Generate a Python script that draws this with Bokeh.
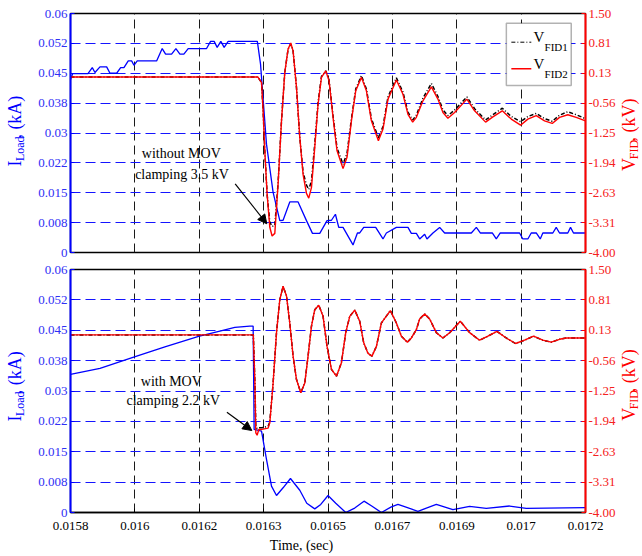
import math
from bokeh.plotting import figure
from bokeh.models import (Range1d, LinearAxis, FixedTicker, Grid, Label, Arrow,
                          NormalHead, BoxAnnotation)
from bokeh.layouts import column, row
from bokeh.embed import file_html
from bokeh.resources import INLINE

# ---------------- data ----------------
x_ticks = [0.0158, 0.015975, 0.01615, 0.016325, 0.0165, 0.016675, 0.01685, 0.017025, 0.0172]
x_labels = ["0.0158", "0.016", "0.0162", "0.0163", "0.0165", "0.0167", "0.0169", "0.017", "0.0172"]
i_ticks = [0, 0.0075, 0.015, 0.0225, 0.03, 0.0375, 0.045, 0.0525, 0.06]
i_labels = ["0", "0.008", "0.015", "0.022", "0.03", "0.038", "0.045", "0.052", "0.06"]
v_ticks = [-4.0, -3.3125, -2.625, -1.9375, -1.25, -0.5625, 0.125, 0.8125, 1.5]
v_labels = ["-4.00", "-3.31", "-2.63", "-1.94", "-1.25", "-0.56", "0.13", "0.81", "1.50"]

# top panel: load current (kA), without MOV
t_top_i = [0.0158, 0.015806, 0.0158475, 0.0158592, 0.0158665, 0.0158801, 0.0158983, 0.0159073, 0.0159255, 0.0159363,
           0.0159453, 0.015957, 0.0159662, 0.0159725, 0.0159814, 0.0160341, 0.0160493, 0.0160585, 0.0160748, 0.0160865,
           0.0160974, 0.0161082, 0.0161199, 0.0161699, 0.0161808, 0.0161905, 0.0161987, 0.0162087, 0.0162177, 0.0162286,
           0.0163079, 0.0163166, 0.0163328, 0.0163508, 0.016369, 0.0163779, 0.0163961, 0.0164187, 0.0164415, 0.0164578,
           0.0164776, 0.0164974, 0.0165094, 0.0165202, 0.0165292, 0.0165409, 0.016568, 0.01658, 0.0165862, 0.0165971,
           0.0166297, 0.0166495, 0.0166587, 0.0166859, 0.0167174, 0.0167266, 0.0167402, 0.0167492, 0.0167628, 0.016769,
           0.0167853, 0.0168035, 0.0168171, 0.0168896, 0.0169032, 0.016914, 0.0169466, 0.0169575, 0.0169683, 0.0170208,
           0.0170297, 0.0170433, 0.0170525, 0.0170661, 0.017077, 0.017084, 0.0171112, 0.0171204, 0.0171294, 0.0171519,
           0.0171593, 0.0171674, 0.0172]
i_top = [0.0434, 0.0449, 0.0449, 0.0464, 0.0452, 0.0466, 0.0466, 0.0450, 0.0450, 0.0464,
         0.0464, 0.0481, 0.0481, 0.0470, 0.0481, 0.0481, 0.0512, 0.0498, 0.0498, 0.0512,
         0.0498, 0.0498, 0.0512, 0.0512, 0.0530, 0.0530, 0.0515, 0.0530, 0.0515, 0.0530,
         0.0530, 0.0473, 0.0272, 0.0151, 0.0080, 0.0081, 0.0127, 0.0127, 0.0080, 0.0048,
         0.0048, 0.0080, 0.0081, 0.0096, 0.0063, 0.0063, 0.0019, 0.0049, 0.0049, 0.0063,
         0.0063, 0.0034, 0.0049, 0.0063, 0.0063, 0.0048, 0.0048, 0.0034, 0.0046, 0.0034,
         0.0049, 0.0063, 0.0049, 0.0049, 0.0063, 0.0049, 0.0049, 0.0034, 0.0049, 0.0049,
         0.0034, 0.0034, 0.0049, 0.0049, 0.0034, 0.0049, 0.0049, 0.0063, 0.0049, 0.0049,
         0.0063, 0.0049, 0.0049]

# top panel: fault-interrupting-device voltages (kV)
t_top_v = [0.0158, 0.0163092, 0.0163193, 0.0163236, 0.0163282, 0.0163345, 0.0163418, 0.016348, 0.0163554, 0.0163643,
           0.0163736, 0.0163825, 0.0163915, 0.0163988, 0.0164051, 0.0164143, 0.0164233, 0.0164322, 0.0164415, 0.0164477,
           0.0164551, 0.016464, 0.016473, 0.0164822, 0.0164939, 0.0165029, 0.0165137, 0.0165246, 0.0165409, 0.0165517,
           0.0165637, 0.0165754, 0.0165908, 0.0166044, 0.016618, 0.016637, 0.0166495, 0.0166631, 0.0166859, 0.0167038,
           0.0167174, 0.0167302, 0.0167402, 0.0167581, 0.016781, 0.0167989, 0.0168125, 0.016826, 0.0168442, 0.0168776,
           0.0168985, 0.0169284, 0.0169482, 0.0169738, 0.0169982, 0.0170235, 0.0170433, 0.0170661, 0.0170887, 0.0171096,
           0.0171294, 0.0171519, 0.0171747, 0.0172]
v_fid2_top = [0.04, 0.04, -0.09, -0.74, -1.66, -2.66, -3.42, -3.62, -3.56, -2.43,
              -0.97, 0.14, 0.68, 0.82, 0.64, -0.20, -1.35, -2.20, -2.64, -2.75,
              -2.50, -1.58, -0.59, 0.03, 0.18, -0.05, -0.89, -1.66, -2.07, -1.81,
              -0.97, -0.28, 0.03, -0.28, -0.97, -1.43, -1.16, -0.47, -0.03, -0.36,
              -0.82, -1.00, -0.89, -0.51, -0.19, -0.47, -0.78, -0.91, -0.78, -0.47,
              -0.74, -1.00, -0.88, -0.74, -0.93, -1.07, -0.93, -0.85, -0.97, -1.03,
              -0.89, -0.83, -0.89, -0.97]
v_fid1_top = [0.04, 0.04, -0.09, -0.74, -1.66, -2.66, -3.30, -3.40, -3.38, -2.40,
              -0.97, 0.14, 0.68, 0.80, 0.64, -0.20, -1.35, -2.15, -2.45, -2.55,
              -2.35, -1.50, -0.55, 0.05, 0.18, -0.03, -0.85, -1.60, -1.97, -1.72,
              -0.92, -0.24, 0.07, -0.24, -0.92, -1.36, -1.10, -0.42, 0.02, -0.31,
              -0.77, -0.95, -0.84, -0.45, -0.11, -0.41, -0.72, -0.85, -0.72, -0.42,
              -0.69, -0.95, -0.83, -0.68, -0.87, -0.99, -0.87, -0.80, -0.92, -0.98,
              -0.84, -0.76, -0.83, -0.92]

# bottom panel: load current (kA), with MOV
t_bot_i = [0.0158, 0.0158801, 0.0159738, 0.0160566, 0.0161482, 0.016206, 0.0162467, 0.0162875, 0.0162965, 0.0162992,
           0.0163193, 0.0163328, 0.0163464, 0.01636, 0.0163779, 0.016398, 0.0164233, 0.0164423, 0.016464, 0.0164803,
           0.0165001, 0.0165211, 0.0165482, 0.0165727, 0.0165979, 0.0166188, 0.0166452, 0.0166723, 0.0166902, 0.016722,
           0.0167445, 0.0167945, 0.0168396, 0.016885, 0.0169303, 0.0169936, 0.017039, 0.0172]
i_bot = [0.0341, 0.0356, 0.0384, 0.0409, 0.0435, 0.0448, 0.0457, 0.0460, 0.0460, 0.0205,
         0.0201, 0.0131, 0.0065, 0.0042, 0.0061, 0.0084, 0.0055, 0.0023, 0.0009, 0.0020,
         0.0042, 0.0023, 0.0000, 0.0011, 0.0028, 0.0016, 0.0000, 0.0014, 0.0020, 0.0010,
         0.0003, 0.0020, 0.0007, 0.0015, 0.0010, 0.0016, 0.0010, 0.0012]

# bottom panel: voltages (kV)
t_bot_v = [0.0158, 0.016297, 0.0163011, 0.0163038, 0.0163073, 0.0163119, 0.0163201, 0.0163372, 0.0163418, 0.0163508,
           0.01636, 0.016369, 0.0163779, 0.0163872, 0.0163961, 0.0164051, 0.0164143, 0.016426, 0.0164369, 0.0164458,
           0.0164551, 0.016464, 0.0164749, 0.0164866, 0.0164974, 0.0165094, 0.016523, 0.0165365, 0.0165482, 0.0165591,
           0.0165727, 0.0165862, 0.0165971, 0.0166088, 0.0166196, 0.0166316, 0.0166452, 0.0166696, 0.0166859, 0.0166995,
           0.0167158, 0.0167266, 0.0167402, 0.0167492, 0.0167628, 0.0167763, 0.0167945, 0.0168125, 0.0168307, 0.0168597,
           0.016885, 0.0169121, 0.0169347, 0.0169591, 0.0169846, 0.0170099, 0.0170343, 0.0170588, 0.017084, 0.0171069,
           0.0171294, 0.0171476, 0.0172]
v_fid2_bot = [0.02, 0.02, -1.0, -2.2, -2.25, -2.12, -2.12, -2.09, -1.97, -1.07,
              0.07, 0.82, 1.12, 0.90, 0.29, -0.46, -0.99, -1.29, -1.07, -0.46,
              0.22, 0.59, 0.69, 0.44, -0.24, -0.76, -0.915, -0.61, 0.07, 0.44,
              0.58, 0.33, -0.16, -0.40, -0.46, -0.24, 0.29, 0.57, 0.29, -0.01,
              -0.145, -0.05, 0.14, 0.38, 0.495, 0.38, 0.07, -0.05, 0.07, 0.33,
              0.07, -0.10, -0.01, 0.10, -0.05, -0.175, -0.10, -0.01, -0.10, -0.145,
              -0.08, -0.05, -0.05]
v_fid1_bot = [0.02, 0.02, -1.0, -2.05, -2.10, -2.08, -2.08, -2.05, -1.95, -1.07,
              0.07, 0.82, 1.12, 0.90, 0.29, -0.46, -0.99, -1.29, -1.07, -0.46,
              0.22, 0.59, 0.69, 0.44, -0.24, -0.76, -0.915, -0.61, 0.07, 0.44,
              0.58, 0.33, -0.16, -0.40, -0.46, -0.24, 0.29, 0.57, 0.29, -0.01,
              -0.145, -0.05, 0.14, 0.38, 0.495, 0.38, 0.07, -0.05, 0.07, 0.33,
              0.07, -0.10, -0.01, 0.10, -0.05, -0.175, -0.10, -0.01, -0.10, -0.145,
              -0.08, -0.05, -0.05]

# ---------------- layout / style ----------------
FONT = "Liberation Serif"
BLUE = "#0000ff"
TICK_BLUE = "#2f2ff5"
RED = "#ff0000"
TICK_RED = "#f52020"
W = 642
LW, RW = 28, 24            # side label strips
LEFT, RIGHT = 42, 32       # borders inside main figures
MW = W - LW - RW           # 590
FW = MW - LEFT - RIGHT     # 516
FRAME_X0 = LW + LEFT       # 70 (page px)
TOP_H, TOP_T, TOP_B = 262, 13, 10
BOT_H, BOT_T, BOT_B = 274, 7, 24
XL_H = 556 - TOP_H - BOT_H  # 20
TOP_FH = TOP_H - TOP_T - TOP_B
BOT_FH = BOT_H - BOT_T - BOT_B
X0, X1 = 0.0158, 0.0172
I0, I1 = 0.0, 0.06
V0, V1 = -4.0, 1.5

WID = {"I": .333, "L": .611, "o": .5, "a": .444, "d": .5, ",": .25, " ": .25, "(": .333,
       ")": .333, "k": .5, "A": .722, "V": .722, "F": .556, "D": .722}


def tw(s, size):
    return sum(WID.get(c, .5) for c in s) * size


def px_x(px):
    return X0 + (px - FRAME_X0) / FW * (X1 - X0)


def py_top(py):
    return I0 + (TOP_T + TOP_FH - py) / TOP_FH * (I1 - I0)


def py_bot(py):
    return I0 + (TOP_H + BOT_T + BOT_FH - py) / BOT_FH * (I1 - I0)


def make_panel(height, top, bottom, show_x):
    p = figure(width=MW, height=height, x_range=Range1d(X0, X1), y_range=Range1d(I0, I1),
               x_axis_location=None, y_axis_location=None, output_backend="svg",
               toolbar_location=None, min_border_left=LEFT, min_border_right=RIGHT,
               min_border_top=top, min_border_bottom=bottom,
               outline_line_color="black", outline_line_width=1.3,
               background_fill_color="white", border_fill_color="white")
    p.grid.visible = False
    p.extra_y_ranges = {"v": Range1d(V0, V1)}
    p.add_layout(Grid(dimension=0, ticker=FixedTicker(ticks=x_ticks), grid_line_color="#1a1a1a",
                      grid_line_dash="9 5", grid_line_width=1))
    p.add_layout(Grid(dimension=1, ticker=FixedTicker(ticks=i_ticks), grid_line_color="#1515ff",
                      grid_line_dash="10 5", grid_line_width=1.2))
    left = LinearAxis(ticker=FixedTicker(ticks=i_ticks), major_label_overrides=dict(zip(i_ticks, i_labels)),
                      axis_line_color=BLUE, axis_line_width=2, major_tick_line_color=BLUE,
                      major_tick_in=4, major_tick_out=0, minor_tick_line_color=None,
                      major_label_text_color=TICK_BLUE, major_label_text_font=FONT,
                      major_label_text_font_size="13px", major_label_standoff=3)
    p.add_layout(left, "left")
    right = LinearAxis(y_range_name="v", ticker=FixedTicker(ticks=v_ticks),
                       major_label_overrides=dict(zip(v_ticks, v_labels)),
                       axis_line_color=RED, axis_line_width=2, major_tick_line_color=RED,
                       major_tick_in=4, major_tick_out=0, minor_tick_line_color=None,
                       major_label_text_color=TICK_RED, major_label_text_font=FONT,
                       major_label_text_font_size="13px", major_label_standoff=3)
    p.add_layout(right, "right")
    if show_x:
        bx = LinearAxis(ticker=FixedTicker(ticks=x_ticks), major_label_overrides=dict(zip(x_ticks, x_labels)),
                        axis_line_color="black", axis_line_width=1.3, major_tick_line_color="black",
                        major_tick_in=4, major_tick_out=0, minor_tick_line_color=None,
                        major_label_text_color="black", major_label_text_font=FONT,
                        major_label_text_font_size="13px", major_label_standoff=9)
        p.add_layout(bx, "below")
    return p


def text_fig(width, height):
    f = figure(width=width, height=height, x_range=Range1d(0, width), y_range=Range1d(height, 0),
               x_axis_location=None, y_axis_location=None, output_backend="svg",
               toolbar_location=None, min_border=0, outline_line_color=None,
               background_fill_color="white", border_fill_color="white")
    f.grid.visible = False
    return f


def vlabel(f, x_px, cy_px, parts, color):
    """Rotated (reading upward) label built of segments, in local pixel coords."""
    total = sum(tw(s, sz) for s, sz, dx in parts)
    y = cy_px + total / 2
    for s, sz, dx in parts:
        f.add_layout(Label(x=x_px + dx, y=y, text=s, angle=math.pi / 2,
                           text_align="left", text_baseline="middle", text_font=FONT,
                           text_font_size=f"{sz}px", text_color=color))
        y -= tw(s, sz)


def tlabel(p, x, y, text, size, align="center", color="black"):
    p.add_layout(Label(x=x, y=y, text=text, text_align=align, text_baseline="middle",
                       text_font=FONT, text_font_size=f"{size}px", text_color=color))


I_PARTS = [("I", 18, 0), ("Load", 12, 5), (", (kA)", 18, 0)]
V_PARTS = [("V", 18, 0), ("FID", 12, 5), (", (kV)", 18, 0)]

# ---------------- top panel ----------------
top = make_panel(TOP_H, TOP_T, TOP_B, False)
top.line(t_top_i, i_top, color=BLUE, line_width=1.3)
top.line(t_top_v, v_fid1_top, color="black", line_width=1.5, line_dash="4 2 1 2", y_range_name="v")
top.line(t_top_v, v_fid2_top, color=RED, line_width=1.4, y_range_name="v")

tlabel(top, px_x(181), py_top(152.5), "without MOV", 14)
tlabel(top, px_x(181.7), py_top(174), "clamping 3.5 kV", 14)
top.add_layout(Arrow(end=NormalHead(size=9, fill_color="black", line_color="black"),
                     x_start=px_x(235), y_start=py_top(183.3), x_end=px_x(266.7), y_end=py_top(223.3),
                     line_color="black", line_width=1.2))

# legend
top.add_layout(BoxAnnotation(left=px_x(506.7), right=px_x(571.7), top=py_top(22.7), bottom=py_top(85),
                             fill_color="white", fill_alpha=1.0, line_color="black", line_width=1.5))
top.add_layout(Arrow(end=None, x_start=px_x(511.7), x_end=px_x(531.7), y_start=py_top(41.7),
                     y_end=py_top(41.7), line_color="black", line_width=1, line_dash="4 2 1 2"))
top.add_layout(Arrow(end=None, x_start=px_x(511.7), x_end=px_x(531.7), y_start=py_top(68.3),
                     y_end=py_top(68.3), line_color=RED, line_width=1.6))
tlabel(top, px_x(534), py_top(36.7), "V", 15, align="left")
tlabel(top, px_x(545), py_top(46), "FID1", 11, align="left")
tlabel(top, px_x(534), py_top(63.8), "V", 15, align="left")
tlabel(top, px_x(545), py_top(73.3), "FID2", 11, align="left")

top_l = text_fig(LW, TOP_H)
vlabel(top_l, 14, 131, I_PARTS, BLUE)
top_r = text_fig(RW, TOP_H)
vlabel(top_r, 628.5 - (W - RW), 135, V_PARTS, RED)

# ---------------- bottom panel ----------------
bot = make_panel(BOT_H, BOT_T, BOT_B, True)
bot.line(t_bot_i, i_bot, color=BLUE, line_width=1.3)
bot.line(t_bot_v, v_fid1_bot, color="black", line_width=1.5, line_dash="4 2 1 2", y_range_name="v")
bot.line(t_bot_v, v_fid2_bot, color=RED, line_width=1.4, y_range_name="v")

tlabel(bot, px_x(171), py_bot(381), "with MOV", 14)
tlabel(bot, px_x(173), py_bot(400), "clamping 2.2 kV", 14)
bot.add_layout(Arrow(end=NormalHead(size=9, fill_color="black", line_color="black"),
                     x_start=px_x(226.7), y_start=py_bot(411.7), x_end=px_x(251.7), y_end=py_bot(430),
                     line_color="black", line_width=1.2))

bot_l = text_fig(LW, BOT_H)
vlabel(bot_l, 14, 396.5 - TOP_H, I_PARTS, BLUE)
bot_r = text_fig(RW, BOT_H)
vlabel(bot_r, 628.5 - (W - RW), 395 - TOP_H, V_PARTS, RED)

xl = text_fig(W, XL_H)
tlabel(xl, 301, 544.5 - TOP_H - BOT_H, "Time, (sec)", 14)

layout = column(row(top_l, top, top_r, spacing=0),
                row(bot_l, bot, bot_r, spacing=0),
                xl, spacing=0)
open("out.html", "w").write(file_html(layout, INLINE))
